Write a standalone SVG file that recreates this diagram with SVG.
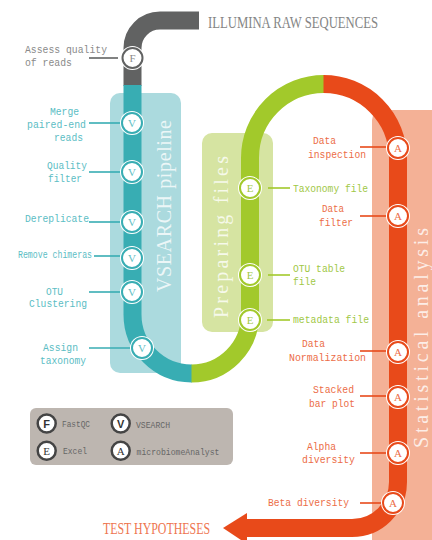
<svg xmlns="http://www.w3.org/2000/svg" width="432" height="540" viewBox="0 0 432 540">
  <defs>
    <style>
      .lbl { font-family: "Liberation Mono", "DejaVu Sans Mono", monospace; font-size: 11.5px; }
      .sm { font-size: 10px; }
      .teal { fill: #5bbdc4; }
      .grn { fill: #9fc846; }
      .red { fill: #ec6d47; }
      .gry { fill: #8a8a8a; }
      .track { fill: none; stroke-width: 18; stroke-linecap: butt; }
      .halo { fill: #ffffff; }
      .ring { fill: #ffffff; stroke-width: 2; }
      .nl { font-family: "Liberation Serif", serif; font-size: 11px; text-anchor: middle; }
      .conn line { stroke-width: 1.6; }
      .big { font-family: "Liberation Serif", serif; font-size: 20px; fill: #ffffff; fill-opacity: 0.78; text-anchor: middle; }
      .head { font-family: "Liberation Serif", serif; font-size: 16px; }
      .lg { fill: #ffffff; stroke: #444444; stroke-width: 2.5; }
      .lgt { font-family: "Liberation Mono", monospace; font-size: 9.5px; fill: #666666; }
      .lgl { font-family: "Liberation Sans", sans-serif; font-size: 11px; font-weight: bold; fill: #333333; text-anchor: middle; }
    </style>
  </defs>

  <!-- stage panels -->
  <g id="panel-vsearch">
    <rect x="110" y="93" width="71" height="280" rx="10" fill="#abdade"/>
  </g>
  <g id="panel-preparing">
    <rect x="202" y="133" width="71" height="199" rx="10" fill="#d6e4a2"/>
  </g>
  <g id="panel-statistics">
    <rect x="372" y="110" width="80" height="440" rx="10" fill="#f4b196"/>
  </g>

  <!-- pipeline track -->
  <g id="track">
    <path class="track" stroke="#616262" d="M199,20.5 H160 A27.5,27.5 0 0 0 132.5,48 V86"/>
    <path class="track" stroke="#38adb3" d="M132.5,85 V314.5 A59,59 0 0 0 191.5,373.5 H192"/>
    <path class="track" stroke="#a2c92b" d="M191.5,373.5 A58.5,58.5 0 0 0 250,315 V158 A74,74 0 0 1 324,84"/>
    <path class="track" stroke="#e84a1a" d="M323.5,84 A74.5,74.5 0 0 1 398,158.5 V482 A46,46 0 0 1 352,528 H244"/>
    <polygon points="223,528 247,513 247,544" fill="#e84a1a"/>
  </g>

  <!-- stage titles -->
  <g id="stage-titles">
    <text class="big" transform="translate(171,206) rotate(-90)" textLength="172" lengthAdjust="spacing">VSEARCH pipeline</text>
    <text class="big" transform="translate(228,237) rotate(-90)" textLength="162" lengthAdjust="spacing">Preparing files</text>
    <text class="big" transform="translate(428,338) rotate(-90)" textLength="220" lengthAdjust="spacing">Statistical analysis</text>
  </g>

  <!-- connectors from labels to stations -->
  <g id="connectors" class="conn">
    <line x1="89" y1="58" x2="118" y2="58" stroke="#616262"/>
    <line x1="89" y1="123" x2="120" y2="123" stroke="#38adb3"/>
    <line x1="89" y1="172" x2="120" y2="172" stroke="#38adb3"/>
    <line x1="89" y1="222" x2="120" y2="222" stroke="#38adb3"/>
    <line x1="94" y1="256" x2="120" y2="256" stroke="#38adb3"/>
    <line x1="89" y1="292" x2="120" y2="292" stroke="#38adb3"/>
    <line x1="89" y1="348" x2="130" y2="348" stroke="#38adb3"/>
    <line x1="268" y1="188" x2="290" y2="188" stroke="#a2c92b"/>
    <line x1="268" y1="275" x2="290" y2="275" stroke="#a2c92b"/>
    <line x1="267" y1="320" x2="290" y2="320" stroke="#a2c92b"/>
    <line x1="360" y1="147" x2="386" y2="147" stroke="#e84a1a"/>
    <line x1="360" y1="216" x2="386" y2="216" stroke="#e84a1a"/>
    <line x1="360" y1="351" x2="386" y2="351" stroke="#e84a1a"/>
    <line x1="360" y1="396" x2="386" y2="396" stroke="#e84a1a"/>
    <line x1="360" y1="453" x2="386" y2="453" stroke="#e84a1a"/>
    <line x1="360" y1="503" x2="381" y2="503" stroke="#e84a1a"/>
  </g>

  <!-- stations -->
  <g id="node-fastqc">
    <circle class="halo" cx="132.5" cy="58" r="12"/>
    <circle class="ring" cx="132.5" cy="58" r="10" stroke="#616262"/>
    <text class="nl gry" x="132.5" y="62">F</text>
    <text class="lbl gry" x="25" y="52.5" textLength="82" lengthAdjust="spacingAndGlyphs">Assess quality</text>
    <text class="lbl gry" x="25" y="66" textLength="47" lengthAdjust="spacingAndGlyphs">of reads</text>
  </g>
  <g id="node-merge">
    <circle class="halo" cx="132" cy="123" r="12"/>
    <circle class="ring" cx="132" cy="123" r="10" stroke="#38adb3"/>
    <text class="nl teal" x="132" y="127">V</text>
    <text class="lbl teal" x="50" y="115" textLength="29" lengthAdjust="spacingAndGlyphs">Merge</text>
    <text class="lbl teal" x="27" y="127.5" textLength="59" lengthAdjust="spacingAndGlyphs">paired-end</text>
    <text class="lbl teal" x="54" y="140.5" textLength="29" lengthAdjust="spacingAndGlyphs">reads</text>
  </g>
  <g id="node-quality">
    <circle class="halo" cx="132" cy="172" r="12"/>
    <circle class="ring" cx="132" cy="172" r="10" stroke="#38adb3"/>
    <text class="nl teal" x="132" y="176">V</text>
    <text class="lbl teal" x="47" y="169" textLength="40" lengthAdjust="spacingAndGlyphs">Quality</text>
    <text class="lbl teal" x="48" y="182" textLength="34" lengthAdjust="spacingAndGlyphs">filter</text>
  </g>
  <g id="node-dereplicate">
    <circle class="halo" cx="132" cy="222" r="12"/>
    <circle class="ring" cx="132" cy="222" r="10" stroke="#38adb3"/>
    <text class="nl teal" x="132" y="226">V</text>
    <text class="lbl teal" x="25" y="222" textLength="64" lengthAdjust="spacingAndGlyphs">Dereplicate</text>
  </g>
  <g id="node-chimeras">
    <circle class="halo" cx="132" cy="258" r="12"/>
    <circle class="ring" cx="132" cy="258" r="10" stroke="#38adb3"/>
    <text class="nl teal" x="132" y="262">V</text>
    <text class="lbl sm teal" x="18" y="258" textLength="74" lengthAdjust="spacingAndGlyphs">Remove chimeras</text>
  </g>
  <g id="node-otu">
    <circle class="halo" cx="132" cy="292" r="12"/>
    <circle class="ring" cx="132" cy="292" r="10" stroke="#38adb3"/>
    <text class="nl teal" x="132" y="296">V</text>
    <text class="lbl teal" x="46" y="294.5" textLength="17" lengthAdjust="spacingAndGlyphs">OTU</text>
    <text class="lbl teal" x="29" y="307" textLength="58" lengthAdjust="spacingAndGlyphs">Clustering</text>
  </g>
  <g id="node-assign">
    <circle class="halo" cx="142" cy="348" r="12"/>
    <circle class="ring" cx="142" cy="348" r="10" stroke="#38adb3"/>
    <text class="nl teal" x="142" y="352">V</text>
    <text class="lbl teal" x="43" y="351" textLength="35" lengthAdjust="spacingAndGlyphs">Assign</text>
    <text class="lbl teal" x="40" y="363.5" textLength="46" lengthAdjust="spacingAndGlyphs">taxonomy</text>
  </g>
  <g id="node-taxonomy-file">
    <circle class="halo" cx="250" cy="188" r="12"/>
    <circle class="ring" cx="250" cy="188" r="10" stroke="#a2c92b"/>
    <text class="nl grn" x="250" y="192">E</text>
    <text class="lbl grn" x="293" y="191.5" textLength="75" lengthAdjust="spacingAndGlyphs">Taxonomy file</text>
  </g>
  <g id="node-otu-table">
    <circle class="halo" cx="250" cy="275" r="12"/>
    <circle class="ring" cx="250" cy="275" r="10" stroke="#a2c92b"/>
    <text class="nl grn" x="250" y="279">E</text>
    <text class="lbl grn" x="293" y="272" textLength="52" lengthAdjust="spacingAndGlyphs">OTU table</text>
    <text class="lbl grn" x="293" y="285" textLength="23" lengthAdjust="spacingAndGlyphs">file</text>
  </g>
  <g id="node-metadata">
    <circle class="halo" cx="250" cy="320" r="12"/>
    <circle class="ring" cx="250" cy="320" r="10" stroke="#a2c92b"/>
    <text class="nl grn" x="250" y="324">E</text>
    <text class="lbl grn" x="293" y="323" textLength="76" lengthAdjust="spacingAndGlyphs">metadata file</text>
  </g>
  <g id="node-inspection">
    <circle class="halo" cx="398" cy="148" r="12"/>
    <circle class="ring" cx="398" cy="148" r="10" stroke="#e84a1a"/>
    <text class="nl red" x="398" y="152">A</text>
    <text class="lbl red" x="313" y="143.5" textLength="23" lengthAdjust="spacingAndGlyphs">Data</text>
    <text class="lbl red" x="308" y="157.5" textLength="58" lengthAdjust="spacingAndGlyphs">inspection</text>
  </g>
  <g id="node-filter">
    <circle class="halo" cx="398" cy="216" r="12"/>
    <circle class="ring" cx="398" cy="216" r="10" stroke="#e84a1a"/>
    <text class="nl red" x="398" y="220">A</text>
    <text class="lbl red" x="322" y="212" textLength="22" lengthAdjust="spacingAndGlyphs">Data</text>
    <text class="lbl red" x="319" y="226" textLength="34" lengthAdjust="spacingAndGlyphs">filter</text>
  </g>
  <g id="node-normalization">
    <circle class="halo" cx="398" cy="352" r="12"/>
    <circle class="ring" cx="398" cy="352" r="10" stroke="#e84a1a"/>
    <text class="nl red" x="398" y="356">A</text>
    <text class="lbl red" x="302" y="347" textLength="23" lengthAdjust="spacingAndGlyphs">Data</text>
    <text class="lbl red" x="289" y="361" textLength="77" lengthAdjust="spacingAndGlyphs">Normalization</text>
  </g>
  <g id="node-barplot">
    <circle class="halo" cx="398" cy="397" r="12"/>
    <circle class="ring" cx="398" cy="397" r="10" stroke="#e84a1a"/>
    <text class="nl red" x="398" y="401">A</text>
    <text class="lbl red" x="313" y="393" textLength="41" lengthAdjust="spacingAndGlyphs">Stacked</text>
    <text class="lbl red" x="309" y="407" textLength="46" lengthAdjust="spacingAndGlyphs">bar plot</text>
  </g>
  <g id="node-alpha">
    <circle class="halo" cx="398" cy="453" r="12"/>
    <circle class="ring" cx="398" cy="453" r="10" stroke="#e84a1a"/>
    <text class="nl red" x="398" y="457">A</text>
    <text class="lbl red" x="307" y="450" textLength="29" lengthAdjust="spacingAndGlyphs">Alpha</text>
    <text class="lbl red" x="302" y="463" textLength="53" lengthAdjust="spacingAndGlyphs">diversity</text>
  </g>
  <g id="node-beta">
    <circle class="halo" cx="393" cy="503" r="12"/>
    <circle class="ring" cx="393" cy="503" r="10" stroke="#e84a1a"/>
    <text class="nl red" x="393" y="507">A</text>
    <text class="lbl red" x="268" y="506" textLength="81" lengthAdjust="spacingAndGlyphs">Beta diversity</text>
  </g>

  <!-- start and end terminals -->
  <g id="start">
    <text class="head" x="208" y="27.5" fill="#858585" textLength="170" lengthAdjust="spacingAndGlyphs">ILLUMINA RAW SEQUENCES</text>
  </g>
  <g id="end">
    <text class="head" x="103" y="534" fill="#ee7650" textLength="107" lengthAdjust="spacingAndGlyphs">TEST HYPOTHESES</text>
  </g>

  <!-- tool legend -->
  <g id="legend">
    <rect x="30" y="408" width="203" height="57" rx="6" fill="#bdb6b0"/>
    <circle class="lg" cx="46.7" cy="423.5" r="9"/>
    <text class="lgl" x="46.7" y="427.5">F</text>
    <circle class="lg" cx="120.7" cy="423.5" r="9"/>
    <text class="lgl" x="120.7" y="427.5">V</text>
    <circle class="lg" cx="46.7" cy="450.7" r="9"/>
    <text class="nl" x="46.7" y="454.7" fill="#333333">E</text>
    <circle class="lg" cx="120.7" cy="450.7" r="9"/>
    <text class="nl" x="120.7" y="454.7" fill="#333333">A</text>
    <text class="lgt" x="62" y="426.5" textLength="28" lengthAdjust="spacingAndGlyphs">FastQC</text>
    <text class="lgt" x="136" y="427.5" textLength="34" lengthAdjust="spacingAndGlyphs">VSEARCH</text>
    <text class="lgt" x="63" y="454" textLength="24" lengthAdjust="spacingAndGlyphs">Excel</text>
    <text class="lgt" x="136.5" y="454.5" textLength="83" lengthAdjust="spacingAndGlyphs">microbiomeAnalyst</text>
  </g>
</svg>
